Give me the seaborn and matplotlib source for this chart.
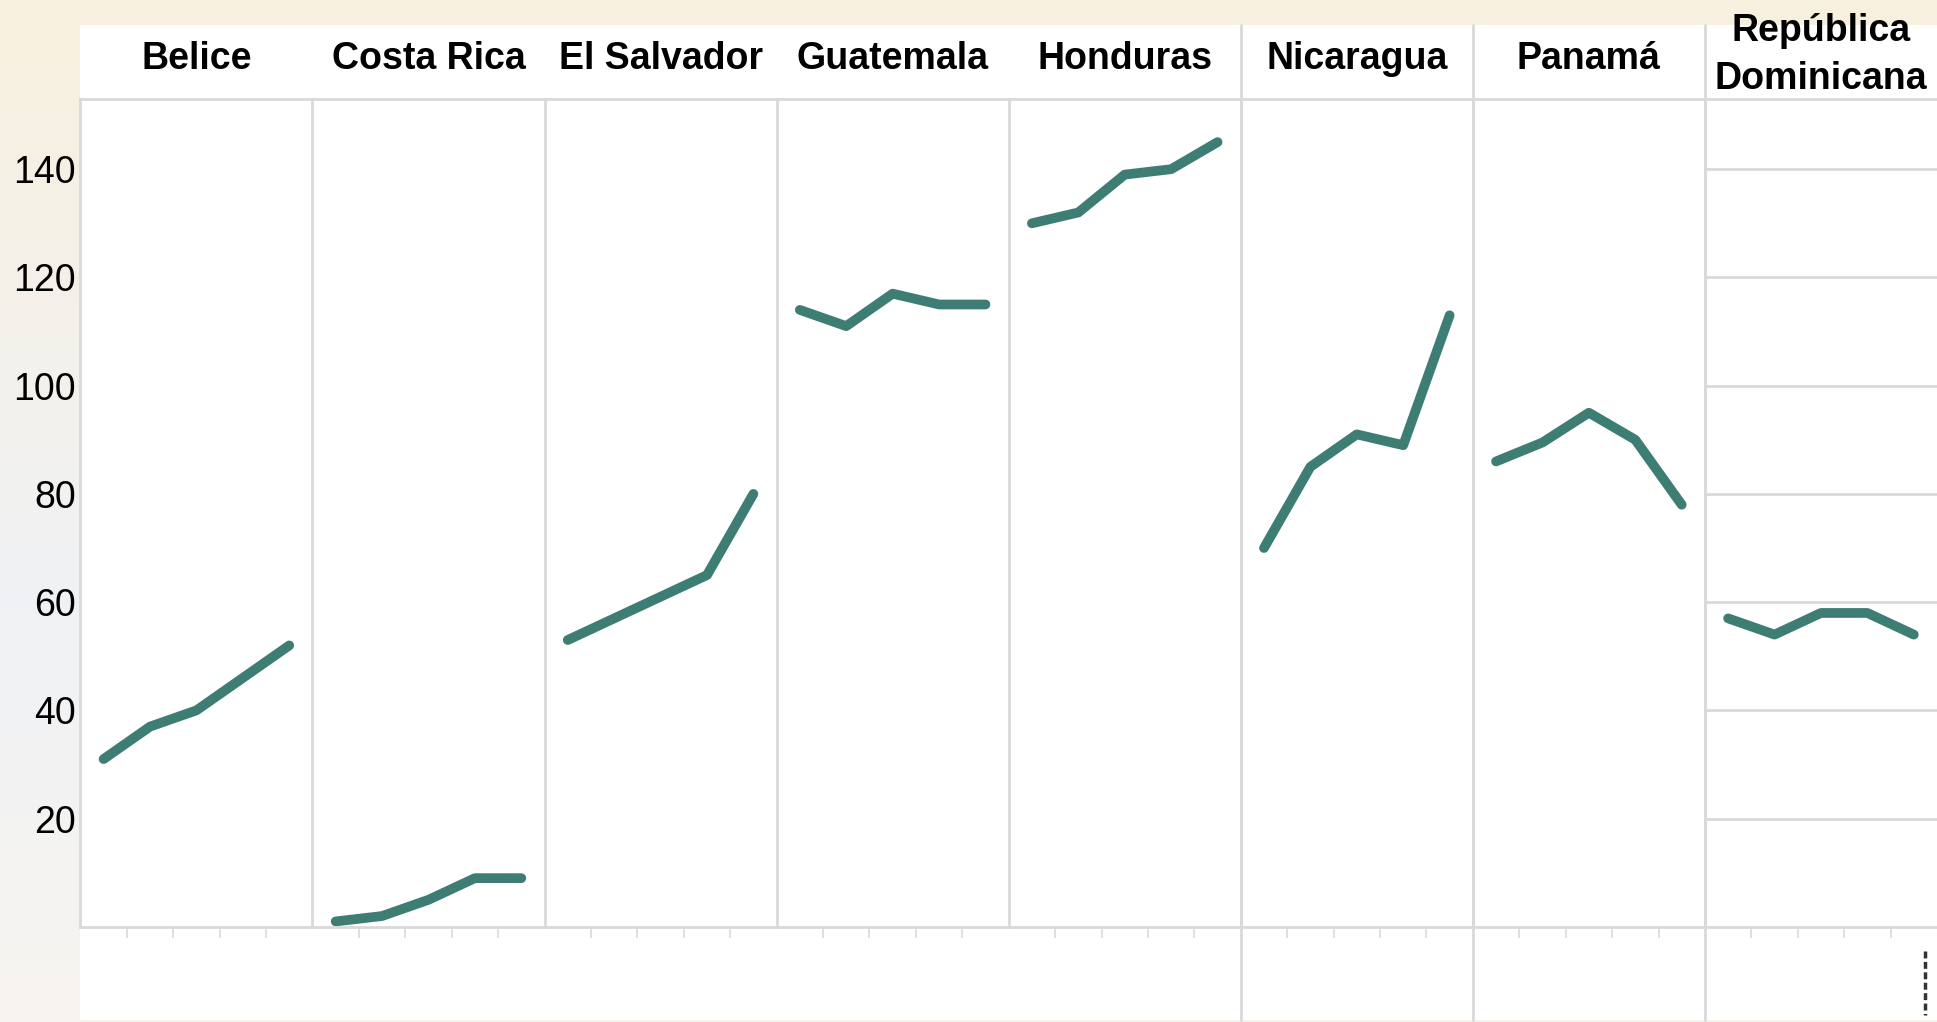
import numpy as np
import pandas as pd
import seaborn as sns
import matplotlib.pyplot as plt
from matplotlib.lines import Line2D
from matplotlib.patches import Rectangle

# data (5 periods per country)
countries = ['Belice', 'Costa Rica', 'El Salvador', 'Guatemala', 'Honduras',
             'Nicaragua', 'Panamá', 'República\nDominicana']
periods = [1, 2, 3, 4, 5]
belice = [31, 37, 40, 46, 52]
costa_rica = [1, 2, 5, 9, 9]
el_salvador = [53, 57, 61, 65, 80]
guatemala = [114, 111, 117, 115, 115]
honduras = [130, 132, 139, 140, 145]
nicaragua = [70, 85, 91, 89, 113]
panama = [86, 89.5, 95, 90, 78]
rep_dominicana = [57, 54, 58, 58, 54]
y_ticks = [20, 40, 60, 80, 100, 120, 140]

LINE = '#3d7d74'
GRID = '#d9d9d9'


def main():
    series = [belice, costa_rica, el_salvador, guatemala, honduras,
              nicaragua, panama, rep_dominicana]
    rows = []
    for name, vals in zip(countries, series):
        for p, v in zip(periods, vals):
            rows.append({'country': name, 'period': p, 'value': v})
    df = pd.DataFrame(rows)

    sns.set_theme(style='white')
    plt.rcParams['font.family'] = ['Liberation Sans', 'DejaVu Sans']
    plt.rcParams['text.color'] = 'black'
    plt.rcParams['ytick.color'] = 'black'

    g = sns.relplot(data=df, x='period', y='value', col='country',
                    col_order=countries, kind='line', color=LINE,
                    linewidth=7, solid_capstyle='round',
                    height=4, aspect=0.5,
                    facet_kws=dict(sharey=True, sharex=True))
    fig = g.figure
    fig.set_size_inches(19.37, 10.22)
    fig.set_facecolor('#f5f2ec')

    left, top, bottom = 0.0415, 0.9033, 0.0931
    head_top, foot_bottom = 0.9758, 0.0024
    fig.subplots_adjust(left=left, right=1.0, top=top, bottom=bottom, wspace=0)

    # faded backdrop behind the chart card
    h, w = 1022, 1937
    rows_c = np.linspace(0, 1, h)
    top_c = np.array([248, 240, 222]) / 255
    mid_c = np.array([240, 242, 245]) / 255
    low_c = np.array([247, 244, 240]) / 255
    col = np.empty((h, 3))
    for k in range(3):
        col[:, k] = np.interp(rows_c, [0, 0.3, 0.6, 1.0],
                              [top_c[k], top_c[k] * 0.5 + mid_c[k] * 0.5, mid_c[k], low_c[k]])
    bg = np.repeat(col[:, None, :], w, axis=1)
    fig.figimage(bg, xo=0, yo=0, zorder=-5)

    # white card: header strip and strip under the axis
    fig.add_artist(Rectangle((left, top), 1 - left, head_top - top,
                             transform=fig.transFigure, facecolor='white',
                             edgecolor='none', zorder=-1))
    fig.add_artist(Rectangle((left, foot_bottom), 1 - left, bottom - foot_bottom,
                             transform=fig.transFigure, facecolor='white',
                             edgecolor='none', zorder=-1))

    g.set_titles('')
    g.set_axis_labels('', '')

    for i, (ax, name) in enumerate(zip(g.axes.flat, countries)):
        ax.set_facecolor('white')
        ax.set_xlim(0.5, 5.5)
        ax.set_ylim(0, 153)
        ax.set_xticks([1.5, 2.5, 3.5, 4.5])
        ax.set_xticklabels([])
        ax.set_yticks(y_ticks)
        ax.tick_params(axis='x', length=8, width=1.2, color=GRID, direction='out', bottom=True)
        ax.tick_params(axis='y', length=0, pad=3, labelsize=27, labelcolor='black')
        for side in ['left', 'top', 'bottom']:
            ax.spines[side].set_visible(True)
            ax.spines[side].set_color(GRID)
            ax.spines[side].set_linewidth(2)
        ax.spines['right'].set_visible(False)
        if i == len(countries) - 1:
            ax.yaxis.grid(True, color=GRID, linewidth=2)
            ax.set_axisbelow(True)

        pos = ax.get_position()
        two_lines = '\n' in name
        fig.text((pos.x0 + pos.x1) / 2, 0.946 if two_lines else 0.942, name,
                 ha='center', va='center', fontsize=27, fontweight='bold',
                 color='black', linespacing=1.45)
        if i >= 5:
            fig.add_artist(Line2D([pos.x0, pos.x0], [foot_bottom, head_top],
                                  transform=fig.transFigure, color=GRID,
                                  linewidth=2, zorder=0.5))

    fig.add_artist(Line2D([0.9937, 0.9937], [0.0695, 0.0068],
                          transform=fig.transFigure, color='#333333',
                          linewidth=2.5, linestyle=(0, (2, 1))))

    fig.savefig('out.png', dpi=100, facecolor=fig.get_facecolor())


if __name__ == "__main__":
    main()
